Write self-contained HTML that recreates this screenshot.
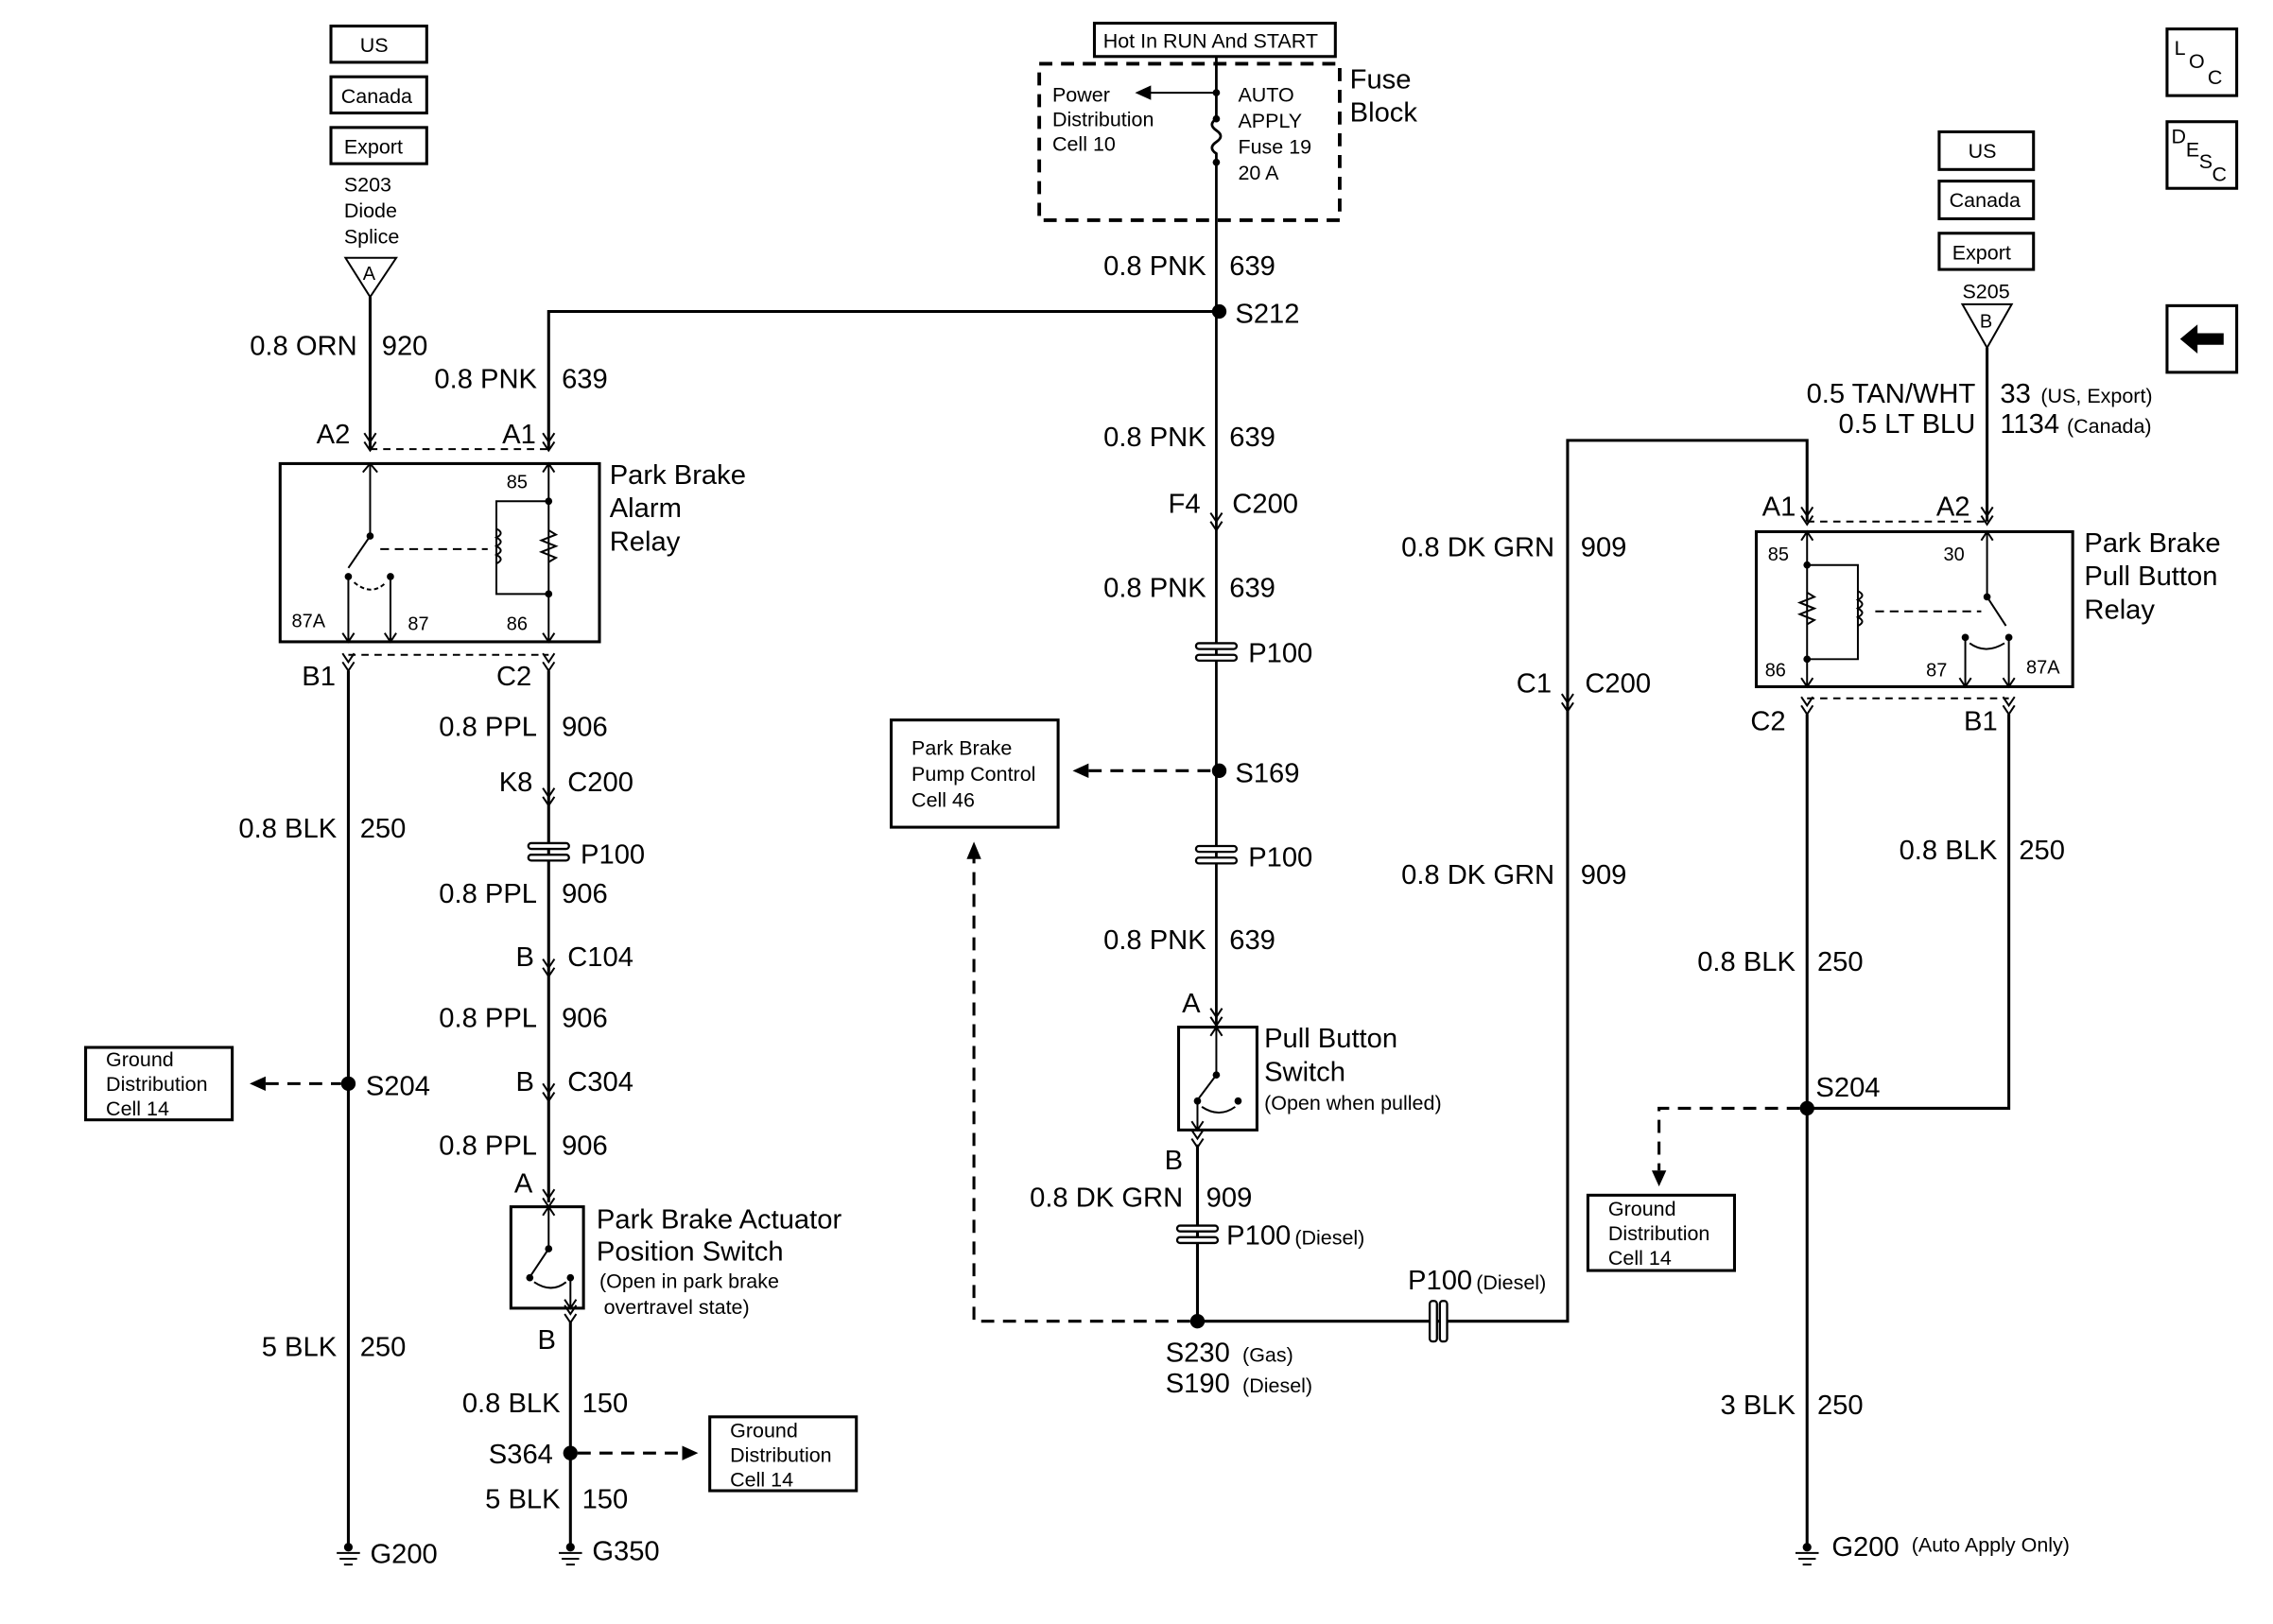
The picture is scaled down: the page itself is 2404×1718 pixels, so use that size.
<!DOCTYPE html>
<html><head><meta charset="utf-8"><style>
html,body{margin:0;padding:0;background:#fff}
svg{display:block}
text{font-family:"Liberation Sans",Arial,sans-serif;fill:#000}
.t{font-size:19px}
.s{font-size:14px}
.xs{font-size:13px}
.r{text-anchor:end}
.w{stroke:#000;stroke-width:2;fill:none}
.d{stroke:#000;stroke-width:2;fill:none;stroke-dasharray:9 6}
.b{stroke:#000;stroke-width:2;fill:#fff}
.th{stroke:#000;stroke-width:1.3;fill:none}
</style></head><body>
<svg width="2404" height="1718" viewBox="0 0 1566 1121" preserveAspectRatio="none" xmlns="http://www.w3.org/2000/svg">
<defs>
<g id="cv"><path d="M-4 -6 L0 0 L4 -6" class="th"/><path d="M-4 0 L0 6 L4 0" class="th"/></g>
<g id="p1"><rect x="-14" y="-6" width="28" height="4" rx="2" class="b" style="stroke-width:1.5"/><rect x="-14" y="2" width="28" height="4" rx="2" class="b" style="stroke-width:1.5"/></g>
<g id="gnd"><circle r="3" fill="#000"/><path d="M-8 4 H8 M-6 8 H6 M-3 12 H3" class="th"/></g>
</defs>

<!-- LEFT -->
<rect x="228" y="18" width="66" height="25" class="b"/><text x="248" y="36" class="s">US</text>
<rect x="228" y="53" width="66" height="25" class="b"/><text x="235" y="71" class="s">Canada</text>
<rect x="228" y="88" width="66" height="25" class="b"/><text x="237" y="106" class="s">Export</text>
<text x="237" y="132" class="s">S203</text><text x="237" y="150" class="s">Diode</text><text x="237" y="168" class="s">Splice</text>
<path d="M238 178 H273 L255 205 Z" class="th"/><text x="250" y="193" class="xs">A</text>
<path d="M255 205 V310" class="w"/>
<text x="246" y="245" class="t r">0.8 ORN</text><text x="263" y="245" class="t">920</text>
<path d="M378 310 V215 H840" class="w"/>
<text x="370" y="268" class="t r">0.8 PNK</text><text x="387" y="268" class="t">639</text>
<text x="218" y="306" class="t">A2</text><text x="346" y="306" class="t">A1</text>
<path d="M255 310 H378" class="d" style="stroke-width:1.3;stroke-dasharray:5 4"/>
<use href="#cv" x="255" y="305"/><use href="#cv" x="378" y="305"/>
<rect x="193" y="320" width="220" height="123" class="w"/>
<path d="M255 320 V370 L240 392 M250 326 L255 320 L260 326" class="th"/>
<circle cx="255" cy="370" r="2.5"/><circle cx="240" cy="398" r="2.5"/><circle cx="269" cy="398" r="2.5"/>
<path d="M240 398 V443 M269 398 V443 M236 437 L240 443 L244 437 M265 437 L269 443 L273 437" class="th"/>
<path d="M244 402 Q256 412 266 402" class="th" stroke-dasharray="3 2"/>
<path d="M262 379 H336" class="th" stroke-dasharray="6 4"/>
<path d="M378 320 V443 M374 326 L378 320 L382 326 M374 437 L378 443 L382 437" class="th"/>
<path d="M378 346 H342 V410 H378" class="th"/>
<path d="M342 365 q6 3 0 6 q6 3 0 6 q6 3 0 6 q6 3 0 6" class="th"/>
<path d="M378 366 l5 3 l-10 4 l10 4 l-10 4 l10 4 l-5 3" class="th"/>
<circle cx="378" cy="346" r="2.5"/><circle cx="378" cy="410" r="2.5"/>
<text x="349" y="337" class="xs">85</text><text x="201" y="433" class="xs">87A</text><text x="281" y="435" class="xs">87</text><text x="349" y="435" class="xs">86</text>
<text x="420" y="334" class="t">Park Brake</text><text x="420" y="357" class="t">Alarm</text><text x="420" y="380" class="t">Relay</text>
<path d="M240 452 H378" class="d" style="stroke-width:1.3;stroke-dasharray:5 4"/>
<use href="#cv" x="240" y="457"/><use href="#cv" x="378" y="457"/>
<text x="208" y="473" class="t">B1</text><text x="342" y="473" class="t">C2</text>
<path d="M240 463 V1068 M378 463 V830" class="w"/>
<text x="370" y="508" class="t r">0.8 PPL</text><text x="387" y="508" class="t">906</text>
<text x="367" y="546" class="t r">K8</text><text x="391" y="546" class="t">C200</text><use href="#cv" x="378" y="550"/>
<use href="#p1" x="378" y="588"/><text x="400" y="596" class="t">P100</text>
<text x="370" y="623" class="t r">0.8 PPL</text><text x="387" y="623" class="t">906</text>
<text x="368" y="667" class="t r">B</text><text x="391" y="667" class="t">C104</text><use href="#cv" x="378" y="668"/>
<text x="370" y="709" class="t r">0.8 PPL</text><text x="387" y="709" class="t">906</text>
<text x="368" y="753" class="t r">B</text><text x="391" y="753" class="t">C304</text><use href="#cv" x="378" y="754"/>
<text x="370" y="797" class="t r">0.8 PPL</text><text x="387" y="797" class="t">906</text>
<text x="367" y="823" class="t r">A</text><use href="#cv" x="378" y="827"/>
<rect x="352" y="833" width="50" height="70" class="w"/>
<path d="M378 833 V862 L366 880 M374 839 L378 833 L382 839" class="th"/><circle cx="378" cy="862" r="2.5"/><circle cx="365" cy="882" r="2.5"/><circle cx="393" cy="882" r="2.5"/>
<path d="M393 882 V903 M389 897 L393 903 L397 897 M368 885 Q380 893 390 885" class="th"/>
<text x="411" y="848" class="t">Park Brake Actuator</text><text x="411" y="870" class="t">Position Switch</text>
<text x="413" y="889" class="s">(Open in park brake</text><text x="416" y="907" class="s">overtravel state)</text>
<text x="383" y="931" class="t r">B</text><use href="#cv" x="393" y="907"/>
<path d="M393 912 V1068" class="w"/>
<text x="386" y="975" class="t r">0.8 BLK</text><text x="401" y="975" class="t">150</text>
<circle cx="393" cy="1003" r="5"/><text x="381" y="1010" class="t r">S364</text>
<path d="M398 1003 H470" class="d"/><path d="M470 998 L481 1003 L470 1008 Z"/>
<rect x="489" y="978" width="101" height="51" class="w"/>
<text x="503" y="992" class="s">Ground</text><text x="503" y="1009" class="s">Distribution</text><text x="503" y="1026" class="s">Cell 14</text>
<text x="386" y="1041" class="t r">5 BLK</text><text x="401" y="1041" class="t">150</text>
<use href="#gnd" x="393" y="1068"/><text x="408" y="1077" class="t">G350</text>
<text x="232" y="578" class="t r">0.8 BLK</text><text x="248" y="578" class="t">250</text>
<circle cx="240" cy="748" r="5"/><text x="252" y="756" class="t">S204</text>
<path d="M183 748 H235" class="d"/><path d="M183 743 L172 748 L183 753 Z"/>
<rect x="59" y="723" width="101" height="50" class="w"/>
<text x="73" y="736" class="s">Ground</text><text x="73" y="753" class="s">Distribution</text><text x="73" y="770" class="s">Cell 14</text>
<text x="232" y="936" class="t r">5 BLK</text><text x="248" y="936" class="t">250</text>
<use href="#gnd" x="240" y="1068"/><text x="255" y="1079" class="t">G200</text>

<!-- CENTER -->
<rect x="754" y="16" width="166" height="23" class="w"/><text x="760" y="33" class="s">Hot In RUN And START</text>
<rect x="716" y="44" width="207" height="108" class="d" style="stroke-width:2.5"/>
<text x="725" y="70" class="s">Power</text><text x="725" y="87" class="s">Distribution</text><text x="725" y="104" class="s">Cell 10</text>
<path d="M838 64 H792" class="th"/><path d="M793 59 L782 64 L793 69 Z"/>
<circle cx="838" cy="64" r="2.5"/><circle cx="838" cy="82" r="2.5"/><circle cx="838" cy="112" r="2.5"/>
<path d="M838 39 V82 q-6 4 0 8 q6 4 0 8 q-6 4 0 8 V112 M838 112 V709" class="w" style="stroke-width:1.8"/>
<text x="853" y="70" class="s">AUTO</text><text x="853" y="88" class="s">APPLY</text><text x="853" y="106" class="s">Fuse 19</text><text x="853" y="124" class="s">20 A</text>
<text x="930" y="61" class="t">Fuse</text><text x="930" y="84" class="t">Block</text>
<text x="831" y="190" class="t r">0.8 PNK</text><text x="847" y="190" class="t">639</text>
<circle cx="840" cy="215" r="5"/><text x="851" y="223" class="t">S212</text>
<text x="831" y="308" class="t r">0.8 PNK</text><text x="847" y="308" class="t">639</text>
<text x="827" y="354" class="t r">F4</text><text x="849" y="354" class="t">C200</text><use href="#cv" x="838" y="360"/>
<text x="831" y="412" class="t r">0.8 PNK</text><text x="847" y="412" class="t">639</text>
<use href="#p1" x="838" y="450"/><text x="860" y="457" class="t">P100</text>
<circle cx="840" cy="532" r="5"/><text x="851" y="540" class="t">S169</text>
<path d="M750 532 H835" class="d"/><path d="M750 527 L739 532 L750 537 Z"/>
<rect x="614" y="497" width="115" height="74" class="w"/>
<text x="628" y="521" class="s">Park Brake</text><text x="628" y="539" class="s">Pump Control</text><text x="628" y="557" class="s">Cell 46</text>
<use href="#p1" x="838" y="590"/><text x="860" y="598" class="t">P100</text>
<text x="831" y="655" class="t r">0.8 PNK</text><text x="847" y="655" class="t">639</text>
<text x="827" y="699" class="t r">A</text><use href="#cv" x="838" y="702"/>
<rect x="812" y="709" width="54" height="71" class="b"/>
<path d="M838 709 V742 L826 758 M834 715 L838 709 L842 715" class="th"/><circle cx="838" cy="742" r="2.5"/><circle cx="825" cy="760" r="2.5"/><circle cx="853" cy="760" r="2.5"/>
<path d="M825 760 V780 M821 774 L825 780 L829 774 M828 764 Q840 772 851 764" class="th"/>
<text x="871" y="723" class="t">Pull Button</text><text x="871" y="746" class="t">Switch</text><text x="871" y="766" class="s">(Open when pulled)</text>
<text x="815" y="807" class="t r">B</text><use href="#cv" x="825" y="786"/>
<path d="M825 790 V912" class="w"/>
<text x="815" y="833" class="t r">0.8 DK GRN</text><text x="831" y="833" class="t">909</text>
<use href="#p1" x="825" y="852"/><text x="845" y="859" class="t">P100</text><text x="892" y="859" class="s">(Diesel)</text>
<circle cx="825" cy="912" r="5"/>
<text x="803" y="940" class="t">S230</text><text x="856" y="940" class="s">(Gas)</text>
<text x="803" y="961" class="t">S190</text><text x="856" y="961" class="s">(Diesel)</text>
<path d="M820 912 H671 V592" class="d"/><path d="M666 593 L671 581 L676 593 Z"/>
<path d="M825 912 H1080 V304 H1245 V360" class="w"/>
<rect x="985" y="898" width="5" height="28" rx="2" class="b" style="stroke-width:1.5"/><rect x="992" y="898" width="5" height="28" rx="2" class="b" style="stroke-width:1.5"/>
<text x="970" y="890" class="t">P100</text><text x="1017" y="890" class="s">(Diesel)</text>
<text x="1071" y="384" class="t r">0.8 DK GRN</text><text x="1089" y="384" class="t">909</text>
<text x="1069" y="478" class="t r">C1</text><text x="1092" y="478" class="t">C200</text><use href="#cv" x="1080" y="485"/>
<text x="1071" y="610" class="t r">0.8 DK GRN</text><text x="1089" y="610" class="t">909</text>

<!-- RIGHT -->
<rect x="1336" y="91" width="65" height="26" class="b"/><text x="1356" y="109" class="s">US</text>
<rect x="1336" y="125" width="65" height="26" class="b"/><text x="1343" y="143" class="s">Canada</text>
<rect x="1336" y="161" width="65" height="25" class="b"/><text x="1345" y="179" class="s">Export</text>
<text x="1352" y="206" class="s">S205</text>
<path d="M1352 210 H1386 L1369 240 Z" class="th"/><text x="1364" y="226" class="xs">B</text>
<path d="M1369 240 V360" class="w"/>
<text x="1361" y="278" class="t r">0.5 TAN/WHT</text><text x="1378" y="278" class="t">33</text><text x="1406" y="278" class="s">(US, Export)</text>
<text x="1361" y="299" class="t r">0.5 LT BLU</text><text x="1378" y="299" class="t">1134</text><text x="1424" y="299" class="s">(Canada)</text>
<text x="1214" y="356" class="t">A1</text><text x="1334" y="356" class="t">A2</text>
<path d="M1245 360 H1369" class="d" style="stroke-width:1.3;stroke-dasharray:5 4"/>
<use href="#cv" x="1245" y="356"/><use href="#cv" x="1369" y="356"/>
<rect x="1210" y="367" width="218" height="107" class="w"/>
<path d="M1245 367 V474 M1241 373 L1245 367 L1249 373 M1241 468 L1245 474 L1249 468" class="th"/>
<path d="M1245 390 H1280 V455 H1245" class="th"/>
<path d="M1280 408 q6 3 0 6 q6 3 0 6 q6 3 0 6 q6 3 0 6" class="th"/>
<path d="M1245 409 l5 3 l-10 4 l10 4 l-10 4 l10 4 l-5 3" class="th"/>
<circle cx="1245" cy="390" r="2.5"/><circle cx="1245" cy="455" r="2.5"/>
<path d="M1369 367 V412 L1382 432 M1365 373 L1369 367 L1373 373" class="th"/>
<circle cx="1369" cy="412" r="2.5"/><circle cx="1354" cy="440" r="2.5"/><circle cx="1384" cy="440" r="2.5"/>
<path d="M1354 440 V474 M1384 440 V474 M1350 468 L1354 474 L1358 468 M1380 468 L1384 474 L1388 468 M1357 444 Q1368 452 1381 444" class="th"/>
<path d="M1292 422 H1365" class="th" stroke-dasharray="6 4"/>
<text x="1218" y="387" class="xs">85</text><text x="1339" y="387" class="xs">30</text>
<text x="1216" y="467" class="xs">86</text><text x="1327" y="467" class="xs">87</text><text x="1396" y="465" class="xs">87A</text>
<text x="1436" y="381" class="t">Park Brake</text><text x="1436" y="404" class="t">Pull Button</text><text x="1436" y="427" class="t">Relay</text>
<path d="M1245 482 H1384" class="d" style="stroke-width:1.3;stroke-dasharray:5 4"/>
<use href="#cv" x="1245" y="487"/><use href="#cv" x="1384" y="487"/>
<text x="1206" y="504" class="t">C2</text><text x="1353" y="504" class="t">B1</text>
<path d="M1245 493 V1068 M1384 493 V765 H1245" class="w"/>
<text x="1376" y="593" class="t r">0.8 BLK</text><text x="1391" y="593" class="t">250</text>
<text x="1237" y="670" class="t r">0.8 BLK</text><text x="1252" y="670" class="t">250</text>
<circle cx="1245" cy="765" r="5"/><text x="1251" y="757" class="t">S204</text>
<path d="M1240 765 H1143 V808" class="d"/><path d="M1138 808 L1143 819 L1148 808 Z"/>
<rect x="1094" y="825" width="101" height="52" class="w"/>
<text x="1108" y="839" class="s">Ground</text><text x="1108" y="856" class="s">Distribution</text><text x="1108" y="873" class="s">Cell 14</text>
<text x="1237" y="976" class="t r">3 BLK</text><text x="1252" y="976" class="t">250</text>
<use href="#gnd" x="1245" y="1068"/><text x="1262" y="1074" class="t">G200</text><text x="1317" y="1071" class="s">(Auto Apply Only)</text>

<!-- ICONS -->
<rect x="1493" y="20" width="48" height="46" class="w"/>
<text x="1498" y="38" class="s">L</text><text x="1508" y="47" class="s">O</text><text x="1521" y="58" class="s">C</text>
<rect x="1493" y="84" width="48" height="46" class="w"/>
<text x="1496" y="99" class="s">D</text><text x="1506" y="108" class="s">E</text><text x="1515" y="116" class="s">S</text><text x="1524" y="125" class="s">C</text>
<rect x="1493" y="211" width="48" height="46" class="w"/>
<path d="M1502 234 L1514 224 V230 H1532 V238 H1514 V244 Z"/>
</svg>
</body></html>
